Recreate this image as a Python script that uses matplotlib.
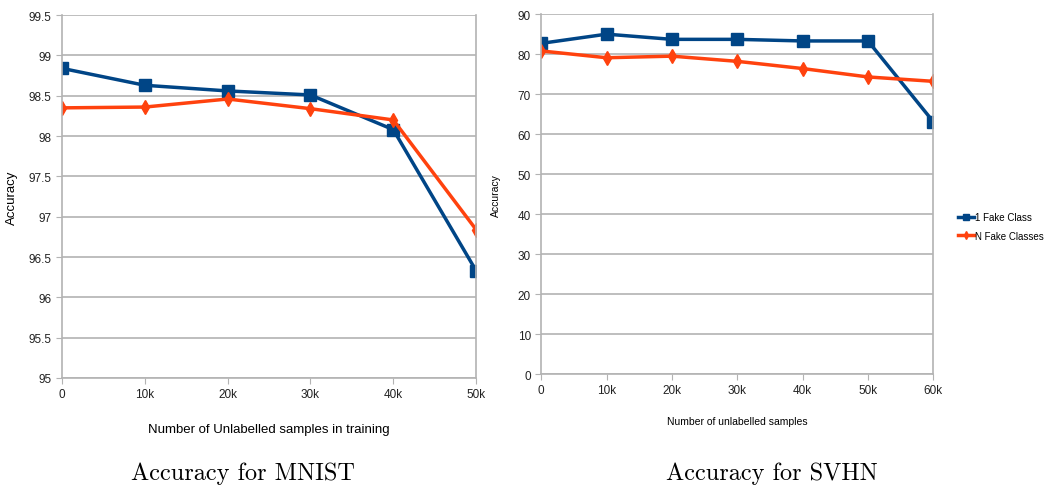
import matplotlib
matplotlib.use('Agg')
import matplotlib.pyplot as plt
from matplotlib.ticker import FuncFormatter

# data
mnist_x = [0, 10000, 20000, 30000, 40000, 50000]
mnist_one_fake = [98.84, 98.63, 98.56, 98.51, 98.08, 96.33]
mnist_n_fake = [98.35, 98.36, 98.46, 98.34, 98.20, 96.84]

svhn_x = [0, 10000, 20000, 30000, 40000, 50000, 60000]
svhn_one_fake = [82.7, 85.0, 83.7, 83.7, 83.3, 83.3, 63.1]
svhn_n_fake = [80.8, 79.1, 79.5, 78.2, 76.4, 74.3, 73.2]

blue = '#004586'
orange = '#ff420e'
grid_c = '#b3b3b3'

plt.rcParams['font.family'] = ['Liberation Sans', 'DejaVu Sans']

fig = plt.figure(figsize=(10.51, 4.89), dpi=100)
ax1 = fig.add_axes([0.059, 0.225, 0.394, 0.742])
ax2 = fig.add_axes([0.515, 0.233, 0.373, 0.736])


def kfmt(v, pos):
    return '0' if v == 0 else f'{int(v / 1000)}k'


def style(ax):
    ax.spines['top'].set_visible(False)
    for s in ['left', 'bottom', 'right']:
        ax.spines[s].set_color(grid_c)
        ax.spines[s].set_linewidth(1.2)
    ax.grid(axis='y', color=grid_c, linewidth=1.2)
    ax.set_axisbelow(True)
    ax.tick_params(direction='out', length=4, color=grid_c, labelsize=8.5,
                   labelcolor='#222222')
    ax.xaxis.set_major_formatter(FuncFormatter(kfmt))


ax1.plot(mnist_x, mnist_one_fake, color=blue, lw=2.5, marker='s', ms=8, label='1 Fake Class')
ax1.plot(mnist_x, mnist_n_fake, color=orange, lw=2.5, marker='d', ms=7, label='N Fake Classes')
ax1.set_xlim(0, 50000)
ax1.set_ylim(95, 99.5)
ax1.set_xticks(mnist_x)
ax1.set_yticks([95, 95.5, 96, 96.5, 97, 97.5, 98, 98.5, 99, 99.5])
ax1.set_yticklabels(['95', '95.5', '96', '96.5', '97', '97.5', '98', '98.5', '99', '99.5'])
style(ax1)
ax1.set_xlabel('Number of Unlabelled samples in training', fontsize=9.5, labelpad=16)
ax1.set_ylabel('Accuracy', fontsize=9.5, labelpad=8)

ax2.plot(svhn_x, svhn_one_fake, color=blue, lw=2.5, marker='s', ms=8, label='1 Fake Class')
ax2.plot(svhn_x, svhn_n_fake, color=orange, lw=2.5, marker='d', ms=7, label='N Fake Classes')
ax2.set_xlim(0, 60000)
ax2.set_ylim(0, 90)
ax2.set_xticks(svhn_x)
ax2.set_yticks(range(0, 91, 10))
style(ax2)
ax2.set_xlabel('Number of unlabelled samples', fontsize=7.5, labelpad=14)
ax2.set_ylabel('Accuracy', fontsize=7.5, labelpad=12)
ax2.legend(loc='center left', bbox_to_anchor=(1.063, 0.41), frameon=False, fontsize=7,
           handlelength=1.6, markerscale=0.6, labelspacing=0.9, handletextpad=0.2,
           borderpad=0, borderaxespad=0)

fig.text(0.231, 0.018, 'Accuracy for MNIST', fontsize=17.5, family='cmr10', ha='center')
fig.text(0.734, 0.018, 'Accuracy for SVHN', fontsize=17.5, family='cmr10', ha='center')

fig.savefig('out.png', dpi=100, facecolor='white')
